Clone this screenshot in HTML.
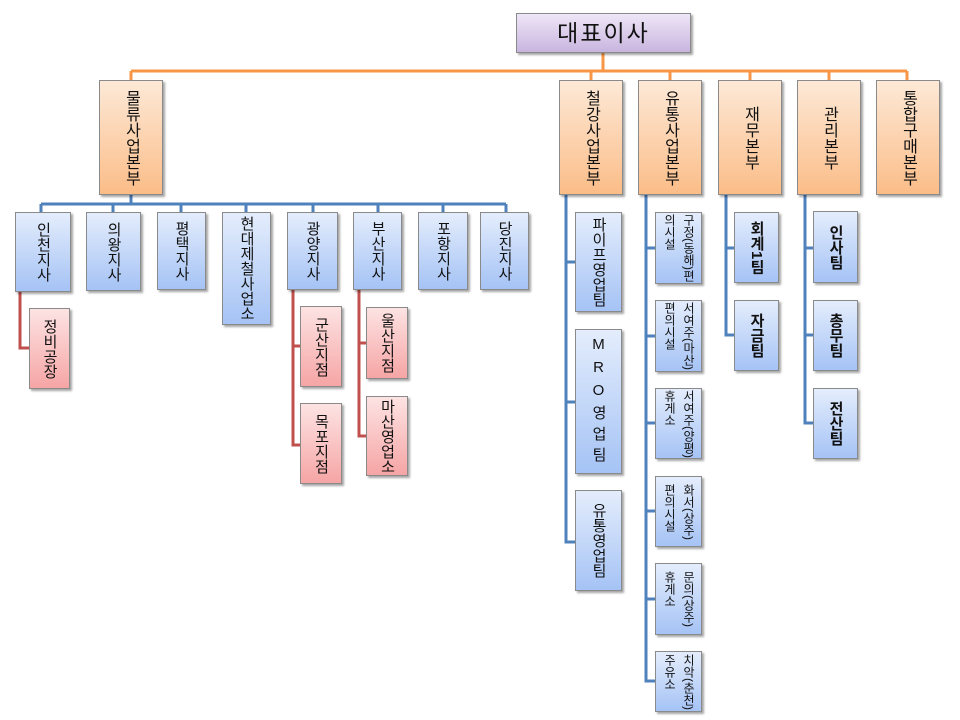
<!DOCTYPE html>
<html><head><meta charset="utf-8"><style>
html,body{margin:0;padding:0;background:#fff;}
body{width:960px;height:720px;position:relative;overflow:hidden;font-family:"Liberation Sans","Noto Sans CJK KR","NanumGothic",sans-serif;color:#111;}
.b{position:absolute;box-sizing:border-box;border:1px solid #8a8a8a;box-shadow:2px 2px 2px rgba(0,0,0,0.35);display:flex;align-items:center;justify-content:center;overflow:visible;}
.b span{writing-mode:vertical-rl;font-size:15px;line-height:17px;letter-spacing:0px;white-space:nowrap;}
.o span{font-size:16px;}
.o{background:linear-gradient(#fde9d7,#fbbd88);}
.u{background:linear-gradient(#e4edfc,#a5c3f5);}
.r{background:linear-gradient(#fde3e3,#f6a5a5);}
.s span{font-size:12px;line-height:19px;letter-spacing:0;}
.top{background:linear-gradient(#efe6f7,#c8b5df);}
svg{position:absolute;left:0;top:0;}
</style></head><body>
<svg width="960" height="720">
<g stroke="#f79646" stroke-width="3" fill="none">
<path d="M603 53V71M131 71H907"/>
<path d="M131 71V80M591 71V80M670 71V80M750 71V80M829 71V80M907 71V80"/>
</g>
<g stroke="#4f81bd" stroke-width="3" fill="none">
<path d="M131 195V204M41 204H506M41 204V212M113 204V212M181 204V212M246 204V212M313 204V212M378 204V212M443 204V212M506 204V212"/>
<path d="M566 195V542H575M566 262H575M566 402H575"/>
<path d="M646 195V681H655M646 248H655M646 336H655M646 423H655M646 511H655M646 599H655"/>
<path d="M726 195V335H734M726 248H734"/>
<path d="M805 195V423H813M805 248H813M805 335H813"/>
</g>
<g stroke="#c0504d" stroke-width="3" fill="none">
<path d="M20 292V348H29"/>
<path d="M293 290V445H300M293 346H300"/>
<path d="M359 290V436H366M359 343H366"/>
</g>
</svg>
<div class="b top" style="left:516px;top:13px;width:175px;height:40px;"><span style="writing-mode:horizontal-tb;font-size:23px;letter-spacing:2px;line-height:26px;">대표이사</span></div>

<div class="b o" style="left:99px;top:80px;width:64px;height:115px;"><span>물류사업본부</span></div>
<div class="b o" style="left:559px;top:80px;width:64px;height:115px;"><span>철강사업본부</span></div>
<div class="b o" style="left:638px;top:80px;width:64px;height:115px;"><span>유통사업본부</span></div>
<div class="b o" style="left:718px;top:80px;width:64px;height:115px;"><span>재무본부</span></div>
<div class="b o" style="left:797px;top:80px;width:64px;height:115px;"><span>관리본부</span></div>
<div class="b o" style="left:876px;top:80px;width:64px;height:115px;"><span>통합구매본부</span></div>

<div class="b u" style="left:15px;top:212px;width:56px;height:80px;"><span>인천지사</span></div>
<div class="b u" style="left:86px;top:212px;width:55px;height:79px;"><span>의왕지사</span></div>
<div class="b u" style="left:157px;top:212px;width:49px;height:78px;"><span>평택지사</span></div>
<div class="b u" style="left:222px;top:212px;width:49px;height:113px;"><span>현대제철사업소</span></div>
<div class="b u" style="left:287px;top:212px;width:51px;height:78px;"><span>광양지사</span></div>
<div class="b u" style="left:353px;top:212px;width:49px;height:78px;"><span>부산지사</span></div>
<div class="b u" style="left:418px;top:212px;width:50px;height:78px;"><span>포항지사</span></div>
<div class="b u" style="left:480px;top:212px;width:49px;height:78px;"><span>당진지사</span></div>

<div class="b r" style="left:29px;top:308px;width:41px;height:81px;"><span>정비공장</span></div>
<div class="b r" style="left:300px;top:306px;width:42px;height:81px;"><span>군산지점</span></div>
<div class="b r" style="left:300px;top:403px;width:42px;height:81px;"><span>목포지점</span></div>
<div class="b r" style="left:366px;top:307px;width:42px;height:72px;"><span>울산지점</span></div>
<div class="b r" style="left:366px;top:396px;width:42px;height:80px;"><span>마산영업소</span></div>

<div class="b u" style="left:575px;top:212px;width:47px;height:100px;"><span>파이프영업팀</span></div>
<div class="b u" style="left:575px;top:329px;width:47px;height:145px;"><span style="letter-spacing:6px;text-orientation:upright;">MRO영업팀</span></div>
<div class="b u" style="left:575px;top:490px;width:47px;height:101px;"><span>유통영업팀</span></div>

<div class="b u s" style="left:655px;top:212px;width:47px;height:72px;"><span>구정(동해)편<br>의시설</span></div>
<div class="b u s" style="left:655px;top:300px;width:47px;height:72px;"><span>서여주(마산)<br>편의시설</span></div>
<div class="b u s" style="left:655px;top:388px;width:47px;height:71px;"><span>서여주(양평)<br>휴게소</span></div>
<div class="b u s" style="left:655px;top:476px;width:47px;height:71px;"><span>화서(상주)<br>편의시설</span></div>
<div class="b u s" style="left:655px;top:563px;width:47px;height:72px;"><span>문의(상주)<br>휴게소</span></div>
<div class="b u s" style="left:655px;top:651px;width:47px;height:61px;"><span>치악(춘천)<br>주유소</span></div>

<div class="b u" style="left:734px;top:212px;width:45px;height:71px;"><span style="font-weight:bold;">회계1팀</span></div>
<div class="b u" style="left:734px;top:300px;width:45px;height:71px;"><span style="font-weight:bold;">자금팀</span></div>
<div class="b u" style="left:813px;top:211px;width:45px;height:72px;"><span style="font-weight:bold;">인사팀</span></div>
<div class="b u" style="left:813px;top:300px;width:45px;height:71px;"><span style="font-weight:bold;">총무팀</span></div>
<div class="b u" style="left:813px;top:388px;width:45px;height:71px;"><span style="font-weight:bold;">전산팀</span></div>
</body></html>
